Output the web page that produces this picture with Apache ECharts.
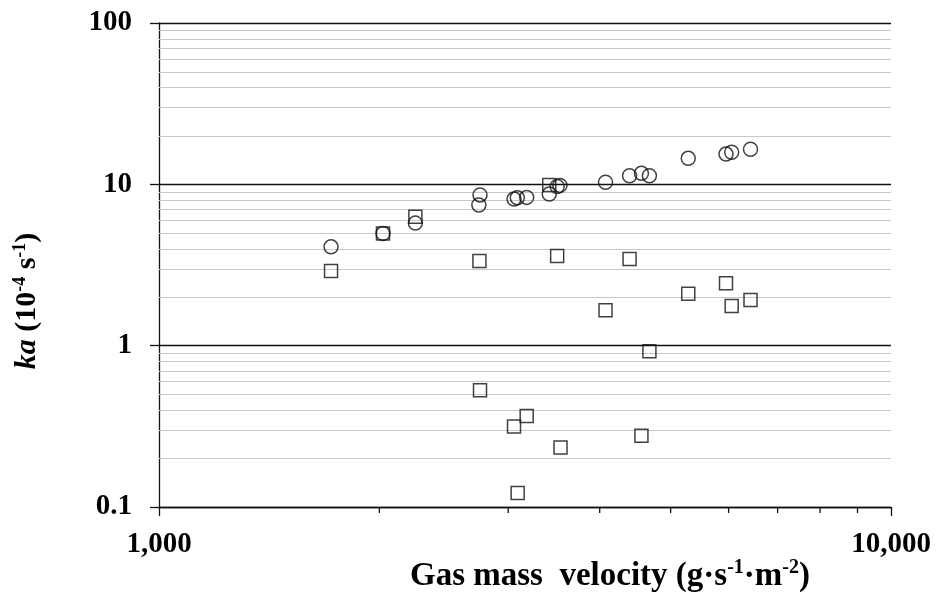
<!DOCTYPE html>
<html>
<head>
<meta charset="utf-8">
<script src="https://cdn.jsdelivr.net/npm/echarts@6/dist/echarts.min.js"></script>
<style>
  html, body { margin: 0; padding: 0; background: #ffffff; }
  #chart { width: 937px; height: 602px; }
</style>
</head>
<body>
<div id="chart"></div>
<script>
// Gas mass velocity (g·s-1·m-2) for each run
const circleX = [1718, 2023, 2240, 2745, 2735, 3055, 3087, 3179, 3413, 3499, 3530, 4074, 4394, 4561, 4677, 5285, 5951, 6058, 6428];
// ka (10^-4 s^-1), circle series
const circleY = [4.1, 4.95, 5.75, 8.6, 7.45, 8.1, 8.25, 8.3, 8.7, 9.7, 9.85, 10.3, 11.3, 11.7, 11.3, 14.5, 15.4, 15.8, 16.5];

const squareX = [1718, 2023, 2240, 2740, 2745, 3055, 3090, 3179, 3413, 3499, 3536, 4074, 4394, 4561, 4677, 5285, 5951, 6058, 6428];
// ka (10^-4 s^-1), square series
const squareY = [2.9, 4.95, 6.3, 3.35, 0.53, 0.315, 0.122, 0.367, 9.9, 3.6, 0.234, 1.66, 3.45, 0.276, 0.925, 2.1, 2.44, 1.76, 1.92];

// axis ranges and minor divisions
const xRange = [1000, 10000];
const yRange = [0.1, 100];
const xMinorTicks = [2000, 3000, 4000, 5000, 6000, 7000, 8000, 9000];
const yMinorLines = [0.2, 0.3, 0.4, 0.5, 0.6, 0.7, 0.8, 0.9,
                     2, 3, 4, 5, 6, 7, 8, 9,
                     20, 30, 40, 50, 60, 70, 80, 90];

const FONT = '"Liberation Serif", "Times New Roman", serif';
const INK = '#111111';

const chart = echarts.init(document.getElementById('chart'), null, { renderer: 'canvas' });

function tidy(v) { return parseFloat(Number(v).toPrecision(6)); }

const option = {
  backgroundColor: '#ffffff',
  animation: false,
  grid: { left: 159, right: 46, top: 23, bottom: 95, containLabel: false },
  xAxis: {
    type: 'log', logBase: 10, min: xRange[0], max: xRange[1],
    axisLine: { show: true, lineStyle: { color: INK, width: 1.3 } },
    axisTick: { show: true, inside: false, length: 9, lineStyle: { color: INK, width: 1.3 } },
    axisLabel: {
      show: true, margin: 23, color: '#000', fontFamily: FONT, fontWeight: 'bold', fontSize: 29,
      formatter: v => tidy(v).toLocaleString('en-US')
    },
    splitLine: { show: false },
    minorTick: { show: false }
  },
  yAxis: {
    type: 'log', logBase: 10, min: yRange[0], max: yRange[1],
    axisLine: { show: true, lineStyle: { color: INK, width: 1.3 } },
    axisTick: { show: true, inside: false, length: 9, lineStyle: { color: INK, width: 1.3 } },
    axisLabel: {
      show: true, margin: 27, color: '#000', fontFamily: FONT, fontWeight: 'bold', fontSize: 29,
      formatter: v => String(tidy(v))
    },
    splitLine: { show: true, lineStyle: { color: INK, width: 1.3 } },
    minorTick: { show: false }
  },
  graphic: [
    {
      type: 'text', x: 610, y: 576,
      style: {
        text: '{b|Gas mass  velocity (g·s}{s|-1}{b|·m}{s|-2}{b|)}',
        align: 'center', verticalAlign: 'middle',
        rich: {
          b: { fontFamily: FONT, fontWeight: 'bold', fontSize: 33, lineHeight: 36, fill: '#000' },
          s: { fontFamily: FONT, fontWeight: 'bold', fontSize: 20, lineHeight: 36, verticalAlign: 'top', padding: [0, 0, 12, 0], fill: '#000' }
        }
      }
    },
    {
      type: 'text', x: 27, y: 301, rotation: Math.PI / 2,
      style: {
        text: '{i|ka}{b| (10}{s|-4}{b| s}{s|-1}{b|)}',
        align: 'center', verticalAlign: 'middle',
        rich: {
          i: { fontFamily: FONT, fontWeight: 'bold', fontStyle: 'italic', fontSize: 30, lineHeight: 32, fill: '#000' },
          b: { fontFamily: FONT, fontWeight: 'bold', fontSize: 30, lineHeight: 32, fill: '#000' },
          s: { fontFamily: FONT, fontWeight: 'bold', fontSize: 18, lineHeight: 32, verticalAlign: 'top', padding: [0, 0, 10, 0], fill: '#000' }
        }
      }
    }
  ],
  series: [
    {
      // light minor gridlines inside each decade
      type: 'custom', z: 1, silent: true,
      data: yMinorLines.map(v => [xRange[0], v]),
      renderItem: (params, api) => {
        const v = api.value(1);
        const p1 = api.coord([xRange[0], v]);
        const p2 = api.coord([xRange[1], v]);
        return {
          type: 'line',
          shape: { x1: p1[0], y1: Math.round(p1[1]) + 0.5, x2: p2[0], y2: Math.round(p2[1]) + 0.5 },
          style: { stroke: '#c8c8c8', lineWidth: 1 }
        };
      }
    },
    {
      // minor tick marks under the horizontal axis
      type: 'custom', z: 2, silent: true, clip: false,
      data: xMinorTicks.map(v => [v, yRange[0]]),
      renderItem: (params, api) => {
        const p = api.coord([api.value(0), yRange[0]]);
        return {
          type: 'line',
          shape: { x1: p[0], y1: p[1], x2: p[0], y2: p[1] + 6 },
          style: { stroke: INK, lineWidth: 1.3 }
        };
      }
    },
    {
      type: 'scatter', z: 5, silent: true,
      symbol: 'circle', symbolSize: 14,
      itemStyle: { color: 'rgba(0,0,0,0)', borderColor: INK, borderWidth: 1.5 },
      data: circleX.map((x, i) => [x, circleY[i]])
    },
    {
      type: 'scatter', z: 5, silent: true,
      symbol: 'rect', symbolSize: 13,
      itemStyle: { color: 'rgba(0,0,0,0)', borderColor: INK, borderWidth: 1.5 },
      data: squareX.map((x, i) => [x, squareY[i]])
    }
  ]
};

chart.setOption(option);
</script>
</body>
</html>
